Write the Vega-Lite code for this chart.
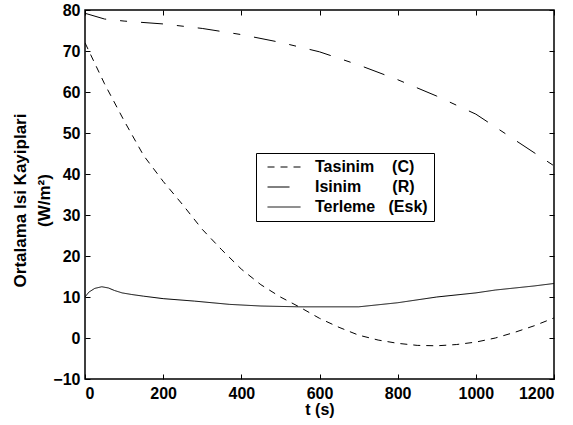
{
  "$schema": "https://vega.github.io/schema/vega-lite/v6.json",
  "width": 469,
  "height": 369,
  "autosize": "none",
  "padding": {"left": 85, "top": 10, "right": 19, "bottom": 46},
  "background": "white",
  "config": {
    "view": {"stroke": "black", "strokeWidth": 1.5},
    "font": "Liberation Sans",
    "axis": {
      "grid": false,
      "domain": false,
      "tickColor": "black",
      "tickWidth": 1,
      "labelFont": "Liberation Sans",
      "labelFontWeight": "bold",
      "labelFontSize": 16,
      "labelColor": "black",
      "titleFont": "Liberation Sans",
      "titleFontWeight": "bold",
      "titleFontSize": 16,
      "titleColor": "black"
    }
  },
  "data": {
    "values": [
      {"series": "C", "t": 0, "v": 72},
      {"series": "C", "t": 25, "v": 67},
      {"series": "C", "t": 50, "v": 62},
      {"series": "C", "t": 100, "v": 53},
      {"series": "C", "t": 150, "v": 44.5},
      {"series": "C", "t": 200, "v": 38.2},
      {"series": "C", "t": 250, "v": 32.5},
      {"series": "C", "t": 300, "v": 26.5},
      {"series": "C", "t": 350, "v": 21.5},
      {"series": "C", "t": 400, "v": 16.8},
      {"series": "C", "t": 450, "v": 13},
      {"series": "C", "t": 500, "v": 10},
      {"series": "C", "t": 550, "v": 7.5},
      {"series": "C", "t": 600, "v": 4.8},
      {"series": "C", "t": 650, "v": 2.6},
      {"series": "C", "t": 700, "v": 0.7},
      {"series": "C", "t": 750, "v": -0.5},
      {"series": "C", "t": 800, "v": -1.3},
      {"series": "C", "t": 850, "v": -1.8},
      {"series": "C", "t": 900, "v": -1.9},
      {"series": "C", "t": 950, "v": -1.6},
      {"series": "C", "t": 1000, "v": -1.0},
      {"series": "C", "t": 1050, "v": 0},
      {"series": "C", "t": 1100, "v": 1.4},
      {"series": "C", "t": 1150, "v": 3},
      {"series": "C", "t": 1200, "v": 4.9},
      {"series": "R", "t": 0, "v": 79.2},
      {"series": "R", "t": 50, "v": 77.8},
      {"series": "R", "t": 100, "v": 77.3},
      {"series": "R", "t": 200, "v": 76.6},
      {"series": "R", "t": 300, "v": 75.5},
      {"series": "R", "t": 400, "v": 74},
      {"series": "R", "t": 500, "v": 72.1},
      {"series": "R", "t": 600, "v": 69.8},
      {"series": "R", "t": 700, "v": 66.6},
      {"series": "R", "t": 800, "v": 63},
      {"series": "R", "t": 900, "v": 59},
      {"series": "R", "t": 1000, "v": 54.6},
      {"series": "R", "t": 1100, "v": 48.3},
      {"series": "R", "t": 1200, "v": 42},
      {"series": "Esk", "t": 0, "v": 10},
      {"series": "Esk", "t": 10, "v": 11.2},
      {"series": "Esk", "t": 25, "v": 12.1},
      {"series": "Esk", "t": 43, "v": 12.5},
      {"series": "Esk", "t": 60, "v": 12.2},
      {"series": "Esk", "t": 75, "v": 11.6},
      {"series": "Esk", "t": 95, "v": 11.0},
      {"series": "Esk", "t": 120, "v": 10.6},
      {"series": "Esk", "t": 150, "v": 10.2},
      {"series": "Esk", "t": 200, "v": 9.6},
      {"series": "Esk", "t": 280, "v": 9},
      {"series": "Esk", "t": 370, "v": 8.2},
      {"series": "Esk", "t": 450, "v": 7.8},
      {"series": "Esk", "t": 550, "v": 7.6},
      {"series": "Esk", "t": 700, "v": 7.6},
      {"series": "Esk", "t": 800, "v": 8.6},
      {"series": "Esk", "t": 900, "v": 10},
      {"series": "Esk", "t": 1000, "v": 11},
      {"series": "Esk", "t": 1050, "v": 11.7},
      {"series": "Esk", "t": 1100, "v": 12.2},
      {"series": "Esk", "t": 1150, "v": 12.7},
      {"series": "Esk", "t": 1200, "v": 13.3}
    ]
  },
  "encoding": {
    "x": {"field": "t", "type": "quantitative", "scale": {"domain": [0, 1200], "nice": false}},
    "y": {"field": "v", "type": "quantitative", "scale": {"domain": [-10, 80], "nice": false}}
  },
  "layer": [
    {
      "mark": {"type": "line", "color": "black", "strokeWidth": 1, "clip": true},
      "encoding": {
        "x": {
          "field": "t", "type": "quantitative",
          "axis": {"values": [0, 200, 400, 600, 800, 1000, 1200], "format": "d", "ticks": false, "labelPadding": 6, "title": "t (s)", "titlePadding": 0}
        },
        "y": {
          "field": "v", "type": "quantitative",
          "axis": {"values": [-10, 0, 10, 20, 30, 40, 50, 60, 70, 80], "format": "d", "ticks": false, "labelPadding": 5,
                   "title": ["Ortalama Isi Kayiplari", "(W/m²)"], "titleFontSize": 17,
                   "titleLineHeight": 24, "titleX": -65, "titleY": 190, "titleBaseline": "middle", "titleAngle": -90}
        },
        "strokeDash": {
          "field": "series", "type": "nominal",
          "scale": {"domain": ["C", "R", "Esk"], "range": [[7, 6], [22, 14, 7, 14], [1, 0]]},
          "legend": {
            "orient": "none", "legendX": 171, "legendY": 143,
            "title": null,
            "labelExpr": "datum.value == 'C' ? 'Tasinim\u00a0\u00a0\u00a0\u00a0(C)' : datum.value == 'R' ? 'Isinim\u00a0\u00a0\u00a0\u00a0\u00a0\u00a0\u00a0(R)' : 'Terleme\u00a0\u00a0\u00a0(Esk)\u00a0\u00a0\u00a0'",
            "labelFont": "Liberation Sans", "labelFontWeight": "bold", "labelFontSize": 16, "labelColor": "black",
            "symbolType": "M-0.45,0H5.55", "symbolSize": 121, "symbolStrokeColor": "black", "symbolStrokeWidth": 1,
            "labelOffset": 37, "rowPadding": 4,
            "strokeColor": "black", "fillColor": "white", "padding": 6
          }
        }
      }
    },
    {
      "mark": {"type": "line", "opacity": 0},
      "encoding": {
        "x": {"field": "t", "type": "quantitative", "axis": {"orient": "bottom", "offset": -5, "tickSize": 5, "values": [0, 200, 400, 600, 800, 1000, 1200], "labels": false, "title": null}},
        "y": {"field": "v", "type": "quantitative", "axis": {"orient": "left", "offset": -5, "tickSize": 5, "values": [-10, 0, 10, 20, 30, 40, 50, 60, 70, 80], "labels": false, "title": null}},
        "detail": {"field": "series"}
      }
    },
    {
      "mark": {"type": "line", "opacity": 0},
      "encoding": {
        "x": {"field": "t", "type": "quantitative", "axis": {"orient": "top", "offset": -5, "tickSize": 5, "values": [0, 200, 400, 600, 800, 1000, 1200], "labels": false, "title": null}},
        "y": {"field": "v", "type": "quantitative", "axis": {"orient": "right", "offset": -5, "tickSize": 5, "values": [-10, 0, 10, 20, 30, 40, 50, 60, 70, 80], "labels": false, "title": null}},
        "detail": {"field": "series"}
      }
    }
  ],
  "resolve": {"axis": {"x": "independent", "y": "independent"}}
}
